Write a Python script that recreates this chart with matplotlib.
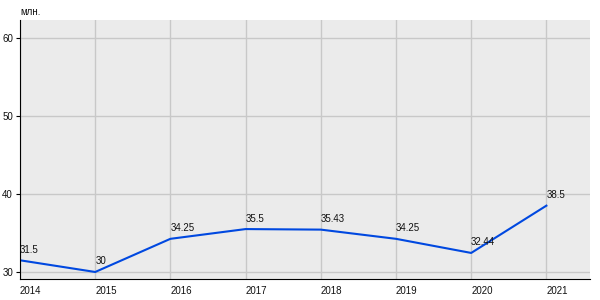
import matplotlib.pyplot as plt

plt.rcParams['font.family'] = ['Liberation Sans', 'DejaVu Sans']

years = [2014, 2015, 2016, 2017, 2018, 2019, 2020, 2021]
values = [31.5, 30, 34.25, 35.5, 35.43, 34.25, 32.44, 38.5]
labels = ["31.5", "30", "34.25", "35.5", "35.43", "34.25", "32.44", "38.5"]
yticks = [30, 40, 50, 60]

fig = plt.figure(figsize=(6, 3), dpi=100)
ax = fig.add_axes([20 / 600, 21 / 300, 570 / 600, 259 / 300])
ax.set_facecolor('#ebebeb')

ax.plot(years, values, color='#0048e0', lw=1.5)
for x, y, s in zip(years, values, labels):
    ax.annotate(s, (x, y), xytext=(0, 4), textcoords='offset points',
                ha='left', va='bottom', fontsize=7, color='#111111')

ax.set_xlim(2014, 2021.58)
ax.set_ylim(29.1, 62.3)
ax.set_xticks(years)
ax.set_xticklabels([str(y) for y in years], ha='left')
ax.set_yticks(yticks)
ax.grid(True, color='#c8c8c8', lw=1)
ax.set_axisbelow(True)
ax.tick_params(axis='x', length=0, labelsize=7, pad=5, labelcolor='#111111')
ax.tick_params(axis='y', length=3, labelsize=7, pad=2, labelcolor='#111111')
for s in ['top', 'right']:
    ax.spines[s].set_visible(False)
ax.spines['left'].set_color('black')
ax.spines['bottom'].set_color('black')

fig.text(20 / 600, 1 - 12 / 300, 'млн.', fontsize=7, va='center', ha='left', color='#111111')

fig.savefig('out.png', dpi=100)
